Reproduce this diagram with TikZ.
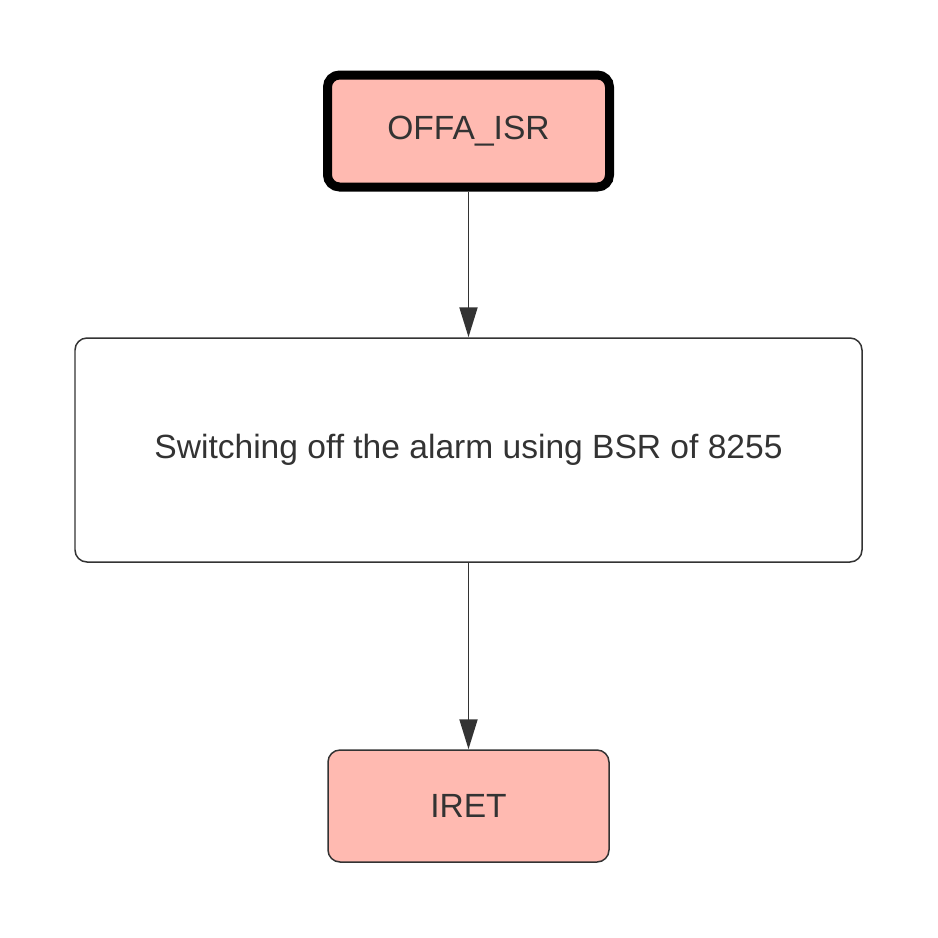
\documentclass[tikz,border=0pt]{standalone}
\usepackage{fontspec}
\setmainfont{Liberation Sans}
\usetikzlibrary{arrows.meta}
\definecolor{salmon}{HTML}{FFBAB1}
\definecolor{ink}{HTML}{333333}
\begin{document}
\begin{tikzpicture}[step box/.style={draw=ink, rounded corners=0.24cm, line width=0.85pt, text=ink, font=\fontsize{19.1pt}{23pt}\selectfont, align=center, inner sep=0pt},
    ret box/.style={step box, fill=salmon, minimum width=5.62cm, minimum height=2.24cm},
    flow/.style={draw=ink, line width=1.1pt, -{Triangle[length=0.6cm, width=0.36cm]}}]
    \useasboundingbox (0,0) rectangle (18.76,-18.76);
    \node[ret box, draw=black, line width=0.18cm, minimum width=5.64cm] (offa) at (9.37,-2.62) {OFFA\_ISR};
    \node[step box, minimum width=15.74cm, minimum height=4.48cm] (alarm) at (9.37,-9.0) {Switching off the alarm using BSR of 8255};
    \node[ret box] (iret) at (9.37,-16.12) {IRET};
    \draw[flow] (offa) -- (alarm);
    \draw[flow] (alarm) -- (iret);
\end{tikzpicture}
\end{document}
